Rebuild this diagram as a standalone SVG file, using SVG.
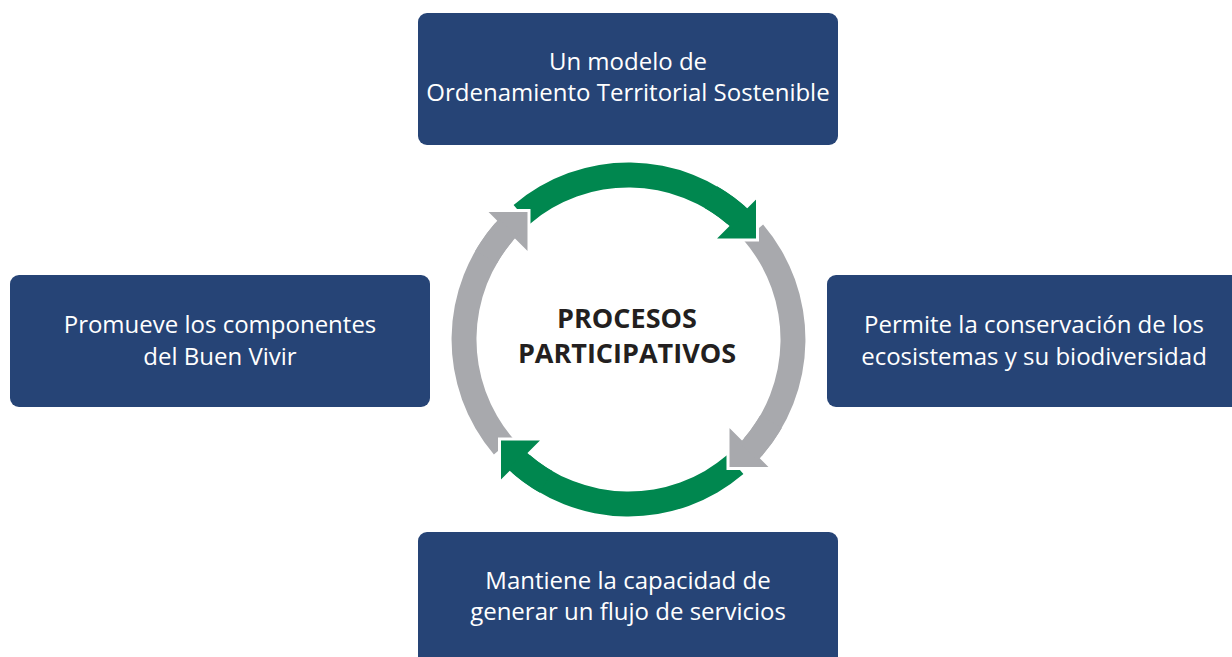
<svg xmlns="http://www.w3.org/2000/svg" width="1232" height="657" viewBox="0 0 1232 657">
<style>
.box{fill:#264476}
.lbl{font-family:"Open Sans",Lato,sans-serif;font-size:24px;fill:#ffffff;text-anchor:middle}
.title{font-family:"Open Sans",Lato,sans-serif;font-weight:bold;font-size:27px;fill:#231f20;text-anchor:middle}
.g{fill:#00874f}
.s{fill:#a8a9ad}
.hd{stroke:#ffffff;stroke-width:3;stroke-linejoin:miter}
</style>
<defs>
<path id="body" d="M513.6,204.9 A177,177 0 0 1 746.9,208 L730.2,226.5 A152,152 0 0 0 529.8,223.9 Z"/>
<path id="head" d="M757.5,196 L757.5,240 L713.5,240 Z"/>
<path id="frag" d="M717,186.2 A177,177 0 0 1 749.2,210 L732.2,228.3 A152,152 0 0 0 704.5,207.9 Z"/>
</defs>
<rect width="1232" height="657" fill="#ffffff"/>
<g id="connectors">
<use href="#body" class="g"/>
<use href="#body" class="s" transform="rotate(90 628.5 339.5)"/>
<use href="#body" class="g" transform="rotate(180 628.5 339.5)"/>
<use href="#body" class="s" transform="rotate(270 628.5 339.5)"/>
<use href="#head" class="g hd"/>
<use href="#head" class="s hd" transform="rotate(90 628.5 339.5)"/>
<use href="#head" class="g hd" transform="rotate(180 628.5 339.5)"/>
<use href="#head" class="s hd" transform="rotate(270 628.5 339.5)"/>
<use href="#frag" class="g"/>
<use href="#frag" class="s" transform="rotate(90 628.5 339.5)"/>
<use href="#frag" class="g" transform="rotate(180 628.5 339.5)"/>
<use href="#frag" class="s" transform="rotate(270 628.5 339.5)"/>
</g>
<g id="center">
<text class="title" x="627" y="328">PROCESOS</text>
<text class="title" x="627" y="363">PARTICIPATIVOS</text>
</g>
<g id="node-top">
<rect class="box" x="418" y="13" width="420" height="132" rx="9"/>
<text class="lbl" x="628" y="70">Un modelo de</text>
<text class="lbl" x="628" y="101">Ordenamiento Territorial Sostenible</text>
</g>
<g id="node-left">
<rect class="box" x="10" y="275" width="420" height="132" rx="9"/>
<text class="lbl" x="220" y="333">Promueve los componentes</text>
<text class="lbl" x="220" y="365">del Buen Vivir</text>
</g>
<g id="node-right">
<rect class="box" x="827" y="275" width="420" height="132" rx="9"/>
<text class="lbl" x="1034" y="333">Permite la conservación de los</text>
<text class="lbl" x="1034" y="365">ecosistemas y su biodiversidad</text>
</g>
<g id="node-bottom">
<rect class="box" x="418" y="532" width="420" height="140" rx="9"/>
<text class="lbl" x="628" y="589">Mantiene la capacidad de</text>
<text class="lbl" x="628" y="620">generar un flujo de servicios</text>
</g>
</svg>
